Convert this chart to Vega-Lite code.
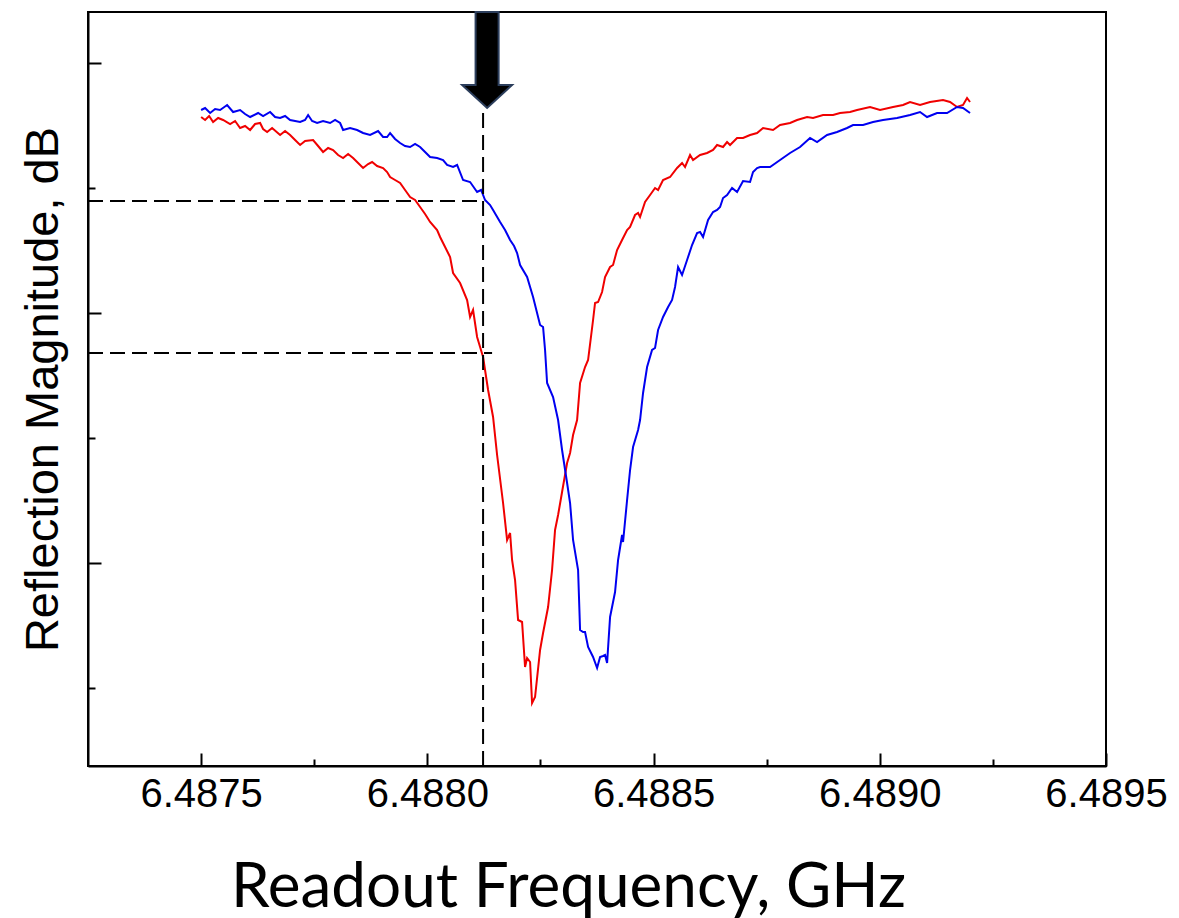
{
  "$schema": "https://vega.github.io/schema/vega-lite/v6.json",
  "width": 1018,
  "height": 754,
  "autosize": {"type": "none"},
  "padding": {"left": 88, "top": 12, "right": 73, "bottom": 152},
  "background": "white",
  "config": {
    "view": {"stroke": "black", "strokeWidth": 2},
    "axis": {"domainColor": "black", "domainWidth": 2, "tickColor": "black", "tickWidth": 2, "grid": false}
  },
  "datasets": {
    "curves": [
      {"trace":"red","f":6.4875000,"db":-2.16},{"trace":"red","f":6.4875088,"db":-2.28},{"trace":"red","f":6.4875177,"db":-2.12},{"trace":"red","f":6.4875265,"db":-2.36},{"trace":"red","f":6.4875376,"db":-2.20},{"trace":"red","f":6.4875486,"db":-2.28},{"trace":"red","f":6.4875641,"db":-2.44},{"trace":"red","f":6.4875751,"db":-2.32},{"trace":"red","f":6.4875862,"db":-2.60},{"trace":"red","f":6.4875972,"db":-2.52},{"trace":"red","f":6.4876083,"db":-2.68},{"trace":"red","f":6.4876193,"db":-2.44},{"trace":"red","f":6.4876304,"db":-2.40},{"trace":"red","f":6.4876370,"db":-2.64},{"trace":"red","f":6.4876459,"db":-2.76},{"trace":"red","f":6.4876569,"db":-2.60},{"trace":"red","f":6.4876746,"db":-2.88},{"trace":"red","f":6.4876856,"db":-2.72},{"trace":"red","f":6.4876967,"db":-2.88},{"trace":"red","f":6.4877077,"db":-3.08},{"trace":"red","f":6.4877188,"db":-3.28},{"trace":"red","f":6.4877298,"db":-3.12},{"trace":"red","f":6.4877475,"db":-3.08},{"trace":"red","f":6.4877586,"db":-3.32},{"trace":"red","f":6.4877696,"db":-3.56},{"trace":"red","f":6.4877807,"db":-3.40},{"trace":"red","f":6.4877917,"db":-3.48},{"trace":"red","f":6.4878028,"db":-3.68},{"trace":"red","f":6.4878138,"db":-3.80},{"trace":"red","f":6.4878249,"db":-3.64},{"trace":"red","f":6.4878359,"db":-3.80},{"trace":"red","f":6.4878470,"db":-4.00},{"trace":"red","f":6.4878580,"db":-4.20},{"trace":"red","f":6.4878691,"db":-4.04},{"trace":"red","f":6.4878779,"db":-3.96},{"trace":"red","f":6.4878890,"db":-4.12},{"trace":"red","f":6.4879022,"db":-4.20},{"trace":"red","f":6.4879111,"db":-4.36},{"trace":"red","f":6.4879177,"db":-4.56},{"trace":"red","f":6.4879287,"db":-4.68},{"trace":"red","f":6.4879398,"db":-4.80},{"trace":"red","f":6.4879508,"db":-5.08},{"trace":"red","f":6.4879619,"db":-5.36},{"trace":"red","f":6.4879729,"db":-5.48},{"trace":"red","f":6.4879840,"db":-5.76},{"trace":"red","f":6.4879950,"db":-6.04},{"trace":"red","f":6.4880061,"db":-6.36},{"trace":"red","f":6.4880216,"db":-6.68},{"trace":"red","f":6.4880282,"db":-6.96},{"trace":"red","f":6.4880348,"db":-7.20},{"trace":"red","f":6.4880503,"db":-7.76},{"trace":"red","f":6.4880569,"db":-8.40},{"trace":"red","f":6.4880724,"db":-8.80},{"trace":"red","f":6.4880879,"db":-9.48},{"trace":"red","f":6.4880945,"db":-10.16},{"trace":"red","f":6.4881011,"db":-9.88},{"trace":"red","f":6.4881100,"db":-10.96},{"trace":"red","f":6.4881166,"db":-11.36},{"trace":"red","f":6.4881232,"db":-11.76},{"trace":"red","f":6.4881343,"db":-13.08},{"trace":"red","f":6.4881453,"db":-14.16},{"trace":"red","f":6.4881542,"db":-15.68},{"trace":"red","f":6.4881674,"db":-17.60},{"trace":"red","f":6.4881763,"db":-19.08},{"trace":"red","f":6.4881829,"db":-18.80},{"trace":"red","f":6.4881873,"db":-19.88},{"trace":"red","f":6.4881939,"db":-20.68},{"trace":"red","f":6.4882006,"db":-22.28},{"trace":"red","f":6.4882094,"db":-22.36},{"trace":"red","f":6.4882160,"db":-24.16},{"trace":"red","f":6.4882205,"db":-23.80},{"trace":"red","f":6.4882271,"db":-23.96},{"trace":"red","f":6.4882315,"db":-25.60},{"trace":"red","f":6.4882381,"db":-25.36},{"trace":"red","f":6.4882492,"db":-23.48},{"trace":"red","f":6.4882558,"db":-22.80},{"trace":"red","f":6.4882669,"db":-21.76},{"trace":"red","f":6.4882757,"db":-20.28},{"trace":"red","f":6.4882823,"db":-18.68},{"trace":"red","f":6.4882890,"db":-18.08},{"trace":"red","f":6.4882978,"db":-17.16},{"trace":"red","f":6.4883089,"db":-16.00},{"trace":"red","f":6.4883155,"db":-15.60},{"trace":"red","f":6.4883221,"db":-14.88},{"trace":"red","f":6.4883310,"db":-14.28},{"trace":"red","f":6.4883376,"db":-12.80},{"trace":"red","f":6.4883486,"db":-12.16},{"trace":"red","f":6.4883553,"db":-11.88},{"trace":"red","f":6.4883663,"db":-10.28},{"trace":"red","f":6.4883707,"db":-9.60},{"trace":"red","f":6.4883774,"db":-9.56},{"trace":"red","f":6.4883862,"db":-9.16},{"trace":"red","f":6.4883928,"db":-8.56},{"trace":"red","f":6.4884039,"db":-8.16},{"trace":"red","f":6.4884105,"db":-8.08},{"trace":"red","f":6.4884194,"db":-7.48},{"trace":"red","f":6.4884304,"db":-7.08},{"trace":"red","f":6.4884415,"db":-6.68},{"trace":"red","f":6.4884481,"db":-6.56},{"trace":"red","f":6.4884591,"db":-6.08},{"trace":"red","f":6.4884658,"db":-6.00},{"trace":"red","f":6.4884702,"db":-6.16},{"trace":"red","f":6.4884812,"db":-5.56},{"trace":"red","f":6.4884923,"db":-5.28},{"trace":"red","f":6.4885033,"db":-5.00},{"trace":"red","f":6.4885100,"db":-5.08},{"trace":"red","f":6.4885210,"db":-4.68},{"trace":"red","f":6.4885365,"db":-4.56},{"trace":"red","f":6.4885520,"db":-4.20},{"trace":"red","f":6.4885630,"db":-4.00},{"trace":"red","f":6.4885696,"db":-4.16},{"trace":"red","f":6.4885807,"db":-3.68},{"trace":"red","f":6.4885873,"db":-3.88},{"trace":"red","f":6.4886028,"db":-3.68},{"trace":"red","f":6.4886183,"db":-3.60},{"trace":"red","f":6.4886315,"db":-3.48},{"trace":"red","f":6.4886404,"db":-3.28},{"trace":"red","f":6.4886536,"db":-3.36},{"trace":"red","f":6.4886625,"db":-3.16},{"trace":"red","f":6.4886691,"db":-3.28},{"trace":"red","f":6.4886846,"db":-3.00},{"trace":"red","f":6.4886978,"db":-3.00},{"trace":"red","f":6.4887133,"db":-2.88},{"trace":"red","f":6.4887288,"db":-2.80},{"trace":"red","f":6.4887420,"db":-2.60},{"trace":"red","f":6.4887641,"db":-2.68},{"trace":"red","f":6.4887796,"db":-2.48},{"trace":"red","f":6.4888017,"db":-2.40},{"trace":"red","f":6.4888172,"db":-2.28},{"trace":"red","f":6.4888393,"db":-2.16},{"trace":"red","f":6.4888525,"db":-2.20},{"trace":"red","f":6.4888746,"db":-2.08},{"trace":"red","f":6.4888967,"db":-2.08},{"trace":"red","f":6.4889122,"db":-2.00},{"trace":"red","f":6.4889343,"db":-1.96},{"trace":"red","f":6.4889498,"db":-1.88},{"trace":"red","f":6.4889785,"db":-1.76},{"trace":"red","f":6.4890006,"db":-1.88},{"trace":"red","f":6.4890293,"db":-1.76},{"trace":"red","f":6.4890514,"db":-1.68},{"trace":"red","f":6.4890669,"db":-1.56},{"trace":"red","f":6.4890890,"db":-1.68},{"trace":"red","f":6.4891111,"db":-1.56},{"trace":"red","f":6.4891398,"db":-1.48},{"trace":"red","f":6.4891553,"db":-1.56},{"trace":"red","f":6.4891708,"db":-1.76},{"trace":"red","f":6.4891840,"db":-1.68},{"trace":"red","f":6.4891929,"db":-1.40},{"trace":"red","f":6.4891995,"db":-1.56},
      {"trace":"blue","f":6.4875000,"db":-1.88},{"trace":"blue","f":6.4875088,"db":-1.80},{"trace":"blue","f":6.4875199,"db":-2.00},{"trace":"blue","f":6.4875309,"db":-1.84},{"trace":"blue","f":6.4875420,"db":-1.88},{"trace":"blue","f":6.4875575,"db":-1.68},{"trace":"blue","f":6.4875707,"db":-1.96},{"trace":"blue","f":6.4875862,"db":-1.88},{"trace":"blue","f":6.4875972,"db":-2.04},{"trace":"blue","f":6.4876083,"db":-2.16},{"trace":"blue","f":6.4876260,"db":-2.00},{"trace":"blue","f":6.4876370,"db":-2.12},{"trace":"blue","f":6.4876525,"db":-1.96},{"trace":"blue","f":6.4876635,"db":-2.16},{"trace":"blue","f":6.4876746,"db":-2.20},{"trace":"blue","f":6.4876856,"db":-2.12},{"trace":"blue","f":6.4876967,"db":-2.28},{"trace":"blue","f":6.4877188,"db":-2.36},{"trace":"blue","f":6.4877298,"db":-2.28},{"trace":"blue","f":6.4877365,"db":-2.08},{"trace":"blue","f":6.4877453,"db":-2.32},{"trace":"blue","f":6.4877564,"db":-2.40},{"trace":"blue","f":6.4877696,"db":-2.32},{"trace":"blue","f":6.4877851,"db":-2.40},{"trace":"blue","f":6.4877961,"db":-2.28},{"trace":"blue","f":6.4878072,"db":-2.40},{"trace":"blue","f":6.4878138,"db":-2.68},{"trace":"blue","f":6.4878293,"db":-2.60},{"trace":"blue","f":6.4878448,"db":-2.68},{"trace":"blue","f":6.4878580,"db":-2.80},{"trace":"blue","f":6.4878735,"db":-2.88},{"trace":"blue","f":6.4878912,"db":-2.72},{"trace":"blue","f":6.4879022,"db":-2.96},{"trace":"blue","f":6.4879111,"db":-2.96},{"trace":"blue","f":6.4879177,"db":-2.80},{"trace":"blue","f":6.4879287,"db":-3.04},{"trace":"blue","f":6.4879398,"db":-3.20},{"trace":"blue","f":6.4879508,"db":-3.32},{"trace":"blue","f":6.4879619,"db":-3.36},{"trace":"blue","f":6.4879729,"db":-3.24},{"trace":"blue","f":6.4879840,"db":-3.36},{"trace":"blue","f":6.4879950,"db":-3.56},{"trace":"blue","f":6.4880061,"db":-3.76},{"trace":"blue","f":6.4880216,"db":-3.80},{"trace":"blue","f":6.4880348,"db":-3.88},{"trace":"blue","f":6.4880437,"db":-4.08},{"trace":"blue","f":6.4880569,"db":-4.16},{"trace":"blue","f":6.4880658,"db":-4.08},{"trace":"blue","f":6.4880790,"db":-4.68},{"trace":"blue","f":6.4880945,"db":-4.76},{"trace":"blue","f":6.4881100,"db":-5.16},{"trace":"blue","f":6.4881188,"db":-5.08},{"trace":"blue","f":6.4881276,"db":-5.48},{"trace":"blue","f":6.4881387,"db":-5.68},{"trace":"blue","f":6.4881453,"db":-5.88},{"trace":"blue","f":6.4881608,"db":-6.36},{"trace":"blue","f":6.4881718,"db":-6.68},{"trace":"blue","f":6.4881829,"db":-7.08},{"trace":"blue","f":6.4881917,"db":-7.32},{"trace":"blue","f":6.4881984,"db":-7.60},{"trace":"blue","f":6.4882050,"db":-8.08},{"trace":"blue","f":6.4882205,"db":-8.56},{"trace":"blue","f":6.4882337,"db":-9.36},{"trace":"blue","f":6.4882492,"db":-10.48},{"trace":"blue","f":6.4882558,"db":-10.56},{"trace":"blue","f":6.4882602,"db":-11.48},{"trace":"blue","f":6.4882647,"db":-12.80},{"trace":"blue","f":6.4882779,"db":-13.36},{"trace":"blue","f":6.4882890,"db":-14.28},{"trace":"blue","f":6.4882978,"db":-15.48},{"trace":"blue","f":6.4883089,"db":-16.80},{"trace":"blue","f":6.4883155,"db":-17.60},{"trace":"blue","f":6.4883221,"db":-19.08},{"trace":"blue","f":6.4883332,"db":-20.28},{"trace":"blue","f":6.4883376,"db":-22.68},{"trace":"blue","f":6.4883442,"db":-22.76},{"trace":"blue","f":6.4883486,"db":-22.76},{"trace":"blue","f":6.4883553,"db":-23.36},{"trace":"blue","f":6.4883663,"db":-23.76},{"trace":"blue","f":6.4883752,"db":-24.20},{"trace":"blue","f":6.4883818,"db":-23.76},{"trace":"blue","f":6.4883884,"db":-23.72},{"trace":"blue","f":6.4883928,"db":-23.68},{"trace":"blue","f":6.4883973,"db":-24.00},{"trace":"blue","f":6.4884039,"db":-22.16},{"trace":"blue","f":6.4884149,"db":-21.16},{"trace":"blue","f":6.4884216,"db":-19.88},{"trace":"blue","f":6.4884304,"db":-18.88},{"trace":"blue","f":6.4884326,"db":-19.16},{"trace":"blue","f":6.4884415,"db":-17.48},{"trace":"blue","f":6.4884481,"db":-16.28},{"trace":"blue","f":6.4884547,"db":-15.36},{"trace":"blue","f":6.4884658,"db":-14.68},{"trace":"blue","f":6.4884702,"db":-14.28},{"trace":"blue","f":6.4884768,"db":-13.20},{"trace":"blue","f":6.4884857,"db":-12.16},{"trace":"blue","f":6.4884967,"db":-11.48},{"trace":"blue","f":6.4885033,"db":-11.40},{"trace":"blue","f":6.4885100,"db":-10.68},{"trace":"blue","f":6.4885210,"db":-10.16},{"trace":"blue","f":6.4885321,"db":-9.76},{"trace":"blue","f":6.4885409,"db":-9.48},{"trace":"blue","f":6.4885475,"db":-8.96},{"trace":"blue","f":6.4885542,"db":-8.16},{"trace":"blue","f":6.4885630,"db":-8.48},{"trace":"blue","f":6.4885741,"db":-7.88},{"trace":"blue","f":6.4885851,"db":-7.28},{"trace":"blue","f":6.4885962,"db":-6.80},{"trace":"blue","f":6.4886028,"db":-6.76},{"trace":"blue","f":6.4886094,"db":-6.96},{"trace":"blue","f":6.4886205,"db":-6.28},{"trace":"blue","f":6.4886315,"db":-5.96},{"trace":"blue","f":6.4886404,"db":-5.88},{"trace":"blue","f":6.4886470,"db":-5.76},{"trace":"blue","f":6.4886536,"db":-5.40},{"trace":"blue","f":6.4886625,"db":-5.28},{"trace":"blue","f":6.4886735,"db":-5.00},{"trace":"blue","f":6.4886846,"db":-5.16},{"trace":"blue","f":6.4886978,"db":-4.72},{"trace":"blue","f":6.4887133,"db":-4.76},{"trace":"blue","f":6.4887199,"db":-4.36},{"trace":"blue","f":6.4887288,"db":-4.20},{"trace":"blue","f":6.4887354,"db":-4.16},{"trace":"blue","f":6.4887575,"db":-4.16},{"trace":"blue","f":6.4887796,"db":-3.88},{"trace":"blue","f":6.4888017,"db":-3.60},{"trace":"blue","f":6.4888238,"db":-3.36},{"trace":"blue","f":6.4888459,"db":-3.00},{"trace":"blue","f":6.4888614,"db":-3.16},{"trace":"blue","f":6.4888835,"db":-2.88},{"trace":"blue","f":6.4889056,"db":-2.76},{"trace":"blue","f":6.4889277,"db":-2.60},{"trace":"blue","f":6.4889409,"db":-2.48},{"trace":"blue","f":6.4889630,"db":-2.48},{"trace":"blue","f":6.4889851,"db":-2.36},{"trace":"blue","f":6.4890072,"db":-2.28},{"trace":"blue","f":6.4890382,"db":-2.20},{"trace":"blue","f":6.4890669,"db":-2.08},{"trace":"blue","f":6.4890890,"db":-1.96},{"trace":"blue","f":6.4891045,"db":-2.16},{"trace":"blue","f":6.4891266,"db":-2.00},{"trace":"blue","f":6.4891487,"db":-2.00},{"trace":"blue","f":6.4891708,"db":-1.76},{"trace":"blue","f":6.4891840,"db":-1.80},{"trace":"blue","f":6.4891995,"db":-2.00}
    ],
    "guides": [
      {"f": 6.48725, "f2": 6.4881254, "db": -5.52, "db2": -5.52},
      {"f": 6.48725, "f2": 6.4881431, "db": -11.6, "db2": -11.6},
      {"f": 6.4881232, "f2": 6.4881232, "db": -2.0, "db2": -28.12}
    ],
    "arrow": [
      {"f": 6.4881321, "db": 0.12}
    ]
  },
  "encoding": {
    "x": {
      "field": "f",
      "type": "quantitative",
      "scale": {"domain": [6.48725, 6.4895], "nice": false, "zero": false},
      "axis": {
        "values": [6.4875, 6.48775, 6.488, 6.48825, 6.4885, 6.48875, 6.489, 6.48925, 6.4895],
        "labelExpr": "abs(datum.value*2000 - round(datum.value*2000)) < 0.01 ? format(datum.value, '.4f') : ''",
        "tickSize": {"condition": {"test": "abs(datum.value*2000 - round(datum.value*2000)) < 0.01", "value": -13}, "value": -7},
        "labelFont": "Liberation Sans",
        "labelFontSize": 40,
        "labelColor": "black",
        "labelPadding": 21,
        "labelFlush": false,
        "labelOverlap": false,
        "title": "Readout Frequency, GHz",
        "titleFont": "Lato",
        "titleFontSize": 62,
        "titleFontWeight": "normal",
        "titleColor": "black",
        "titleX": 480,
        "titleY": 140,
        "titleBaseline": "alphabetic",
        "titleAlign": "center"
      }
    },
    "y": {
      "field": "db",
      "type": "quantitative",
      "scale": {"domain": [-28.12, 2.04], "nice": false, "zero": false},
      "axis": {
        "values": [0, -5, -10, -15, -20, -25],
        "labels": false,
        "tickSize": {"condition": {"test": "datum.value % 10 === 0", "value": -13}, "value": -7},
        "title": "Reflection Magnitude, dB",
        "titleFont": "Liberation Sans",
        "titleFontSize": 47,
        "titleFontWeight": "normal",
        "titleColor": "black",
        "titleAngle": 270,
        "titleX": -31,
        "titleY": 377,
        "titleBaseline": "alphabetic",
        "titleAlign": "center"
      }
    }
  },
  "layer": [
    {
      "data": {"name": "curves"},
      "mark": {"type": "line", "strokeWidth": 2},
      "encoding": {
        "color": {"field": "trace", "type": "nominal", "scale": {"domain": ["red", "blue"], "range": ["#f00000", "#0000f0"]}, "legend": null}
      }
    },
    {
      "data": {"name": "guides"},
      "mark": {"type": "rule", "strokeDash": [15, 7], "strokeWidth": 2, "color": "black"},
      "encoding": {
        "x2": {"field": "f2"},
        "y2": {"field": "db2"}
      }
    },
    {
      "data": {"name": "arrow"},
      "mark": {"type": "point", "shape": "M -0.24 -1 L 0.24 -1 L 0.24 0.52 L 0.52 0.52 L 0 1 L -0.52 0.52 L -0.24 0.52 Z", "size": 9216, "filled": true, "fill": "black", "stroke": "#2c3e5c", "strokeWidth": 2, "opacity": 1},
      "encoding": {}
    }
  ]
}
